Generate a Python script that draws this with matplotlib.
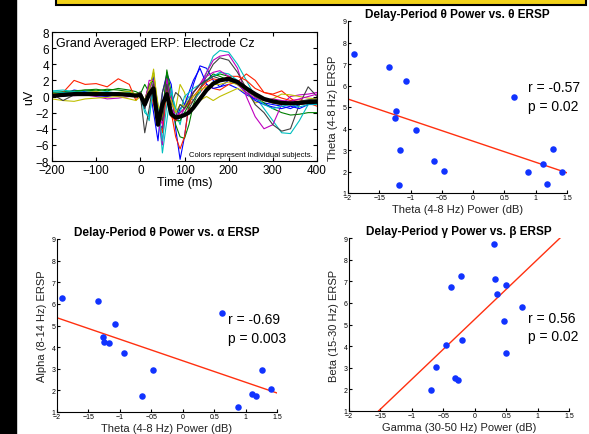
import matplotlib
matplotlib.use("Agg")
import matplotlib.pyplot as plt
from matplotlib.patches import Rectangle
import numpy as np

plt.rcParams["font.family"] = ["Liberation Sans", "DejaVu Sans"]

# ---------------- ERP data ----------------
T = [-200, -175, -150, -125, -100, -75, -50, -25, -10, 0, 10, 20, 30, 40, 50, 60, 70, 80, 90,
     100, 110, 120, 135, 150, 165, 180, 200, 220, 240, 260, 280, 300, 320, 340, 360, 380, 400]

subj_blue = [0.5, 0.3, 0.8, 0.6, 0.5, 0.3, 0.4, 0.3, 0.2, 0.0, -1.5, 1.5, -2.0, -5.5, 0.5, 2.8, 1.5, -4.0, -7.8,
             -5.0, -1.0, 1.5, 3.8, 3.5, 2.0, 1.2, 1.5, 1.0, 0.2, -0.3, -0.8, -1.0, -1.2, -1.5, -1.0, -0.8, -1.0]
subj_green = [0.5, 0.6, 0.7, 0.8, 0.9, 0.7, 1.0, 0.8, 0.6, 0.3, 1.5, 0.5, 3.0, -2.0, -3.0, 3.3, 0.5, -3.5, -5.0,
              -5.2, -3.5, -1.0, 1.0, 2.0, 2.8, 2.5, 2.0, 1.5, 0.8, 0.0, -0.8, -1.5, -2.0, -2.3, -2.2, -2.0, -2.0]
subj_red = [0.3, 0.5, 2.0, 1.5, 1.6, 1.2, 2.2, 1.5, -0.5, 0.5, -0.5, 1.5, -1.0, -3.0, -1.0, 1.0, -2.0, -5.0, -6.5,
            -5.0, -1.0, -0.5, 0.5, 1.5, 1.0, 0.8, 1.5, 1.8, 2.8, 2.0, 0.5, 0.3, 0.7, -0.2, -1.0, -0.8, -1.2]
subj_cyan = [0.7, 0.8, 0.6, 0.7, 0.5, 0.6, 0.4, 0.5, 0.3, 0.0, -1.5, -3.0, 2.0, -1.0, -7.0, -3.0, 1.0, -2.0, -3.5,
             -1.0, 0.0, -0.5, 0.5, 3.0, 5.0, 5.7, 5.5, 4.0, 2.0, 0.0, -1.5, -3.0, -4.5, -4.6, -3.0, -1.0, -1.0]
subj_magenta = [0.3, 0.1, 0.4, 0.2, 0.0, -0.3, -0.2, 0.0, 0.2, 0.5, -1.0, 0.5, 2.5, -2.5, -6.0, 2.0, 0.0, -3.0, -2.5,
                -1.5, -0.5, 0.5, 1.5, 3.0, 4.5, 5.0, 5.2, 3.5, 0.0, -2.5, -4.0, -3.5, -1.0, 0.0, 0.2, 0.3, 0.5]
subj_yellow = [-0.3, -0.5, -0.6, -0.3, -0.2, -0.1, 0.0, -0.3, -0.5, 0.0, -1.0, 0.5, 3.4, -1.5, -3.0, 1.5, -1.0, -1.5, 1.5,
               0.5, -1.5, -1.3, -0.5, 0.0, -0.5, 0.0, 0.5, 1.0, 0.5, -0.8, -0.5, -0.3, 0.3, 0.2, 0.0, -0.2, -0.3]
subj_gray = [0.3, -0.5, 0.2, 0.3, 0.2, 0.1, 0.3, 0.2, 0.0, 0.2, -4.5, -1.5, 2.0, -3.0, 0.5, 2.5, -1.0, 0.5, 0.0,
             -1.0, -1.5, -0.5, 1.0, 2.5, 4.0, 4.8, 4.5, 3.0, 1.0, -1.0, -2.0, -3.5, -4.3, -4.0, -1.0, 1.2, 0.0]
subj_blue2 = [0.2, 0.0, 0.3, 0.2, 0.1, 0.0, 0.3, 0.2, 0.1, 0.3, -0.5, 1.0, 2.5, -3.0, -4.0, 2.0, -2.0, -3.0, -1.5,
              -1.0, 0.5, 2.0, 3.5, 1.5, 1.0, 1.2, 2.0, 1.5, 0.5, -0.5, -1.0, -1.3, -1.5, -1.2, -1.5, -1.0, -0.8]
subj_green2 = [0.4, 0.5, 0.6, 0.8, 0.7, 0.9, 0.8, 0.6, 0.3, 0.5, -0.5, 1.5, 2.0, -3.5, -2.0, 3.0, -1.5, -3.0, -3.0,
               -2.0, -1.0, 0.5, 1.5, 2.0, 2.5, 2.8, 2.5, 1.8, 1.2, 0.3, -0.3, -0.6, -0.8, -1.0, -0.7, -0.5, -0.4]
subj_red2 = [0.0, 0.2, 0.4, 0.3, 0.2, 0.1, 0.2, 0.1, 0.0, 0.4, -1.0, 0.0, 1.5, -2.5, -4.5, 1.0, -2.5, -3.0, -2.0,
             -1.5, -0.8, 0.0, 1.0, 1.8, 2.2, 2.0, 2.5, 2.5, 2.0, 1.0, 0.5, 0.2, -0.2, -0.5, -0.4, -0.6, -0.5]
subj_cyan2 = [0.6, 0.5, 0.6, 0.4, 0.3, 0.2, 0.3, 0.3, 0.1, 0.2, -2.0, -2.5, 1.0, -1.5, -5.5, -1.0, 0.5, -1.5, -2.0,
              0.0, 0.5, 1.0, 1.5, 2.0, 2.5, 3.0, 2.8, 2.0, 1.0, 0.0, -1.0, -1.5, -1.2, -1.0, -1.3, -1.0, -0.8]
subj_magenta2 = [0.2, 0.3, 0.1, 0.2, 0.4, 0.5, 0.3, 0.2, 0.0, 0.1, -0.8, 2.0, 2.0, -2.0, -3.5, 2.2, -1.5, -2.5, -2.0,
                 -1.5, -0.5, 0.5, 1.5, 2.5, 3.0, 3.2, 2.5, 1.5, 0.5, -0.2, -0.5, -0.3, -0.5, -0.6, -0.3, 0.0, 0.3]
subj_yellow2 = [0.4, 0.3, 0.2, 0.5, 0.6, 0.4, 0.5, 0.6, 0.3, 0.4, -0.5, 1.0, 2.8, -1.0, -2.5, 0.5, -0.5, -2.0, -1.0,
                -1.2, -0.5, 0.0, 0.8, 1.2, 1.5, 1.5, 1.8, 1.5, 0.8, 0.0, -0.5, -0.8, -0.9, -1.0, -0.7, -0.5, -0.6]
subj_gray2 = [0.1, 0.2, 0.3, 0.2, 0.3, 0.2, 0.2, 0.3, 0.1, 0.6, -1.5, 0.5, 1.5, -2.0, -3.0, 1.5, -2.0, -2.5, -1.0,
              -1.5, -0.5, 0.5, 1.5, 2.0, 2.5, 2.2, 2.0, 1.8, 0.8, 0.0, -0.5, -0.8, -1.0, -0.9, -0.6, -0.4, -0.3]
grand_mean = [0.1, 0.2, 0.3, 0.3, 0.3, 0.3, 0.3, 0.2, 0.1, 0.2, -1.0, 0.3, 1.0, -3.5, -1.0, 0.3, -2.2, -2.6, -2.5,
              -2.3, -2.0, -1.4, -0.3, 0.8, 1.6, 2.0, 2.2, 1.8, 1.0, 0.3, -0.3, -0.6, -0.8, -0.85, -0.8, -0.7, -0.65]

subjects = [subj_blue, subj_green, subj_red, subj_cyan, subj_magenta, subj_yellow, subj_gray,
            subj_blue2, subj_green2, subj_red2, subj_cyan2, subj_magenta2, subj_yellow2, subj_gray2]
subj_colors = ["#0000ff", "#008000", "#ff2000", "#00bfbf", "#bf00bf", "#bfbf00", "#404040"] * 2

# ---------------- scatter data ----------------
theta_pow = [-1.90, -1.34, -1.07, -1.24, -1.25, -0.92, -1.17, -1.18, -0.62, -0.47, 0.65, 0.88, 1.11, 1.18, 1.27, 1.42]
theta_ersp = [7.46, 6.85, 6.19, 4.80, 4.47, 3.95, 3.02, 1.37, 2.47, 2.02, 5.46, 1.96, 2.36, 1.40, 3.04, 2.00]
theta_fit = (-0.98, 3.41)

theta_pow2 = [-1.92, -1.35, -1.27, -1.26, -1.18, -1.08, -0.94, -0.64, -0.48, 0.63, 0.88, 1.10, 1.17, 1.26, 1.41]
alpha_ersp = [6.27, 6.11, 4.47, 4.26, 4.21, 5.09, 3.73, 1.73, 2.95, 5.60, 1.25, 1.83, 1.73, 2.92, 2.07]
alpha_fit = (-0.994, 3.37)

gamma_pow = [0.31, -0.22, 0.32, -0.38, 0.49, 0.35, 0.76, 0.46, -0.46, -0.20, 0.50, -0.62, -0.31, -0.27, -0.70]
beta_ersp = [8.72, 7.25, 7.11, 6.73, 6.82, 6.41, 5.83, 5.17, 4.06, 4.27, 3.70, 3.05, 2.54, 2.42, 1.97]
beta_fit = (2.77, 5.24)

xtick_vals = [-2, -1.5, -1, -0.5, 0, 0.5, 1, 1.5]
xtick_txt = ["\u22122", "\u221215", "\u22121", "\u221205", "0", "0.5", "1", "1.5"]

W, H = 589, 435
fig = plt.figure(figsize=(W / 100, H / 100), dpi=100)


def box(l, t, r, b):
    return [l / W, 1 - b / H, (r - l) / W, (b - t) / H]


# decorations: black bar left, yellow strip top
fig.patches.append(Rectangle((0, 0), 16 / W, 1, transform=fig.transFigure, color="black", zorder=0))
fig.patches.append(Rectangle((56 / W, 1 - 6 / H), 530 / W, 8 / H, transform=fig.transFigure,
                             facecolor="#f2d21a", edgecolor="black", lw=1.5, zorder=0))

# ---------------- ERP panel ----------------
ax = fig.add_axes(box(52, 33, 317, 162))
for v, c in zip(subjects, subj_colors):
    ax.plot(T, v, color=c, lw=0.8)
ax.plot(T, grand_mean, color="black", lw=3)
ax.set_xlim(-200, 400)
ax.set_ylim(-8, 8)
ax.set_xticks(range(-200, 401, 100))
ax.set_yticks(range(-8, 9, 2))
ax.tick_params(direction="in", length=3, labelsize=8.5, top=True, right=True, pad=2)
ax.set_xlabel("Time (ms)", fontsize=9, labelpad=0)
ax.set_ylabel("uV", fontsize=9, labelpad=0)
ax.text(0.015, 0.96, "Grand Averaged ERP: Electrode Cz", transform=ax.transAxes, fontsize=9, va="top")
ax.text(0.985, 0.02, "Colors represent individual subjects.", transform=ax.transAxes,
        fontsize=5.5, ha="right", va="bottom")


def scatter_panel(rect, xs, ys, fit, title, xlabel, ylabel, rtxt, ptxt, txy):
    a = fig.add_axes(rect)
    a.scatter(xs, ys, s=22, color="#1133ff", zorder=3, linewidths=0)
    xx = np.array([-2, 1.5])
    a.plot(xx, fit[0] * xx + fit[1], color="#ff3010", lw=1)
    a.set_xlim(-2, 1.5)
    a.set_ylim(1, 9)
    a.set_xticks(xtick_vals)
    a.set_xticklabels(xtick_txt)
    a.set_yticks(range(1, 10))
    for s in ("top", "right"):
        a.spines[s].set_visible(False)
    a.tick_params(direction="in", length=2, labelsize=5, pad=1)
    a.set_title(title, fontsize=8.5, fontweight="bold", pad=3)
    a.set_xlabel(xlabel, fontsize=8, color="#222222", labelpad=2)
    a.set_ylabel(ylabel, fontsize=8, color="#222222", labelpad=3)
    a.text(txy[0], txy[1], rtxt, fontsize=10, va="center")
    a.text(txy[0], txy[2], ptxt, fontsize=10, va="center")
    return a


scatter_panel(box(348, 22, 567, 194), theta_pow, theta_ersp, theta_fit,
              "Delay-Period \u03b8 Power vs. \u03b8 ERSP", "Theta (4-8 Hz) Power (dB)",
              "Theta (4-8 Hz) ERSP", "r = -0.57", "p = 0.02", (0.87, 5.94, 5.05))
scatter_panel(box(57, 240, 277, 413), theta_pow2, alpha_ersp, alpha_fit,
              "Delay-Period \u03b8 Power vs. \u03b1 ERSP", "Theta (4-8 Hz) Power (dB)",
              "Alpha (8-14 Hz) ERSP", "r = -0.69", "p = 0.003", (0.715, 5.29, 4.44))
scatter_panel(box(349, 239, 569, 412), gamma_pow, beta_ersp, beta_fit,
              "Delay-Period \u03b3 Power vs. \u03b2 ERSP", "Gamma (30-50 Hz) Power (dB)",
              "Beta (15-30 Hz) ERSP", "r = 0.56", "p = 0.02", (0.84, 5.29, 4.47))

fig.savefig("out.png", dpi=100)
